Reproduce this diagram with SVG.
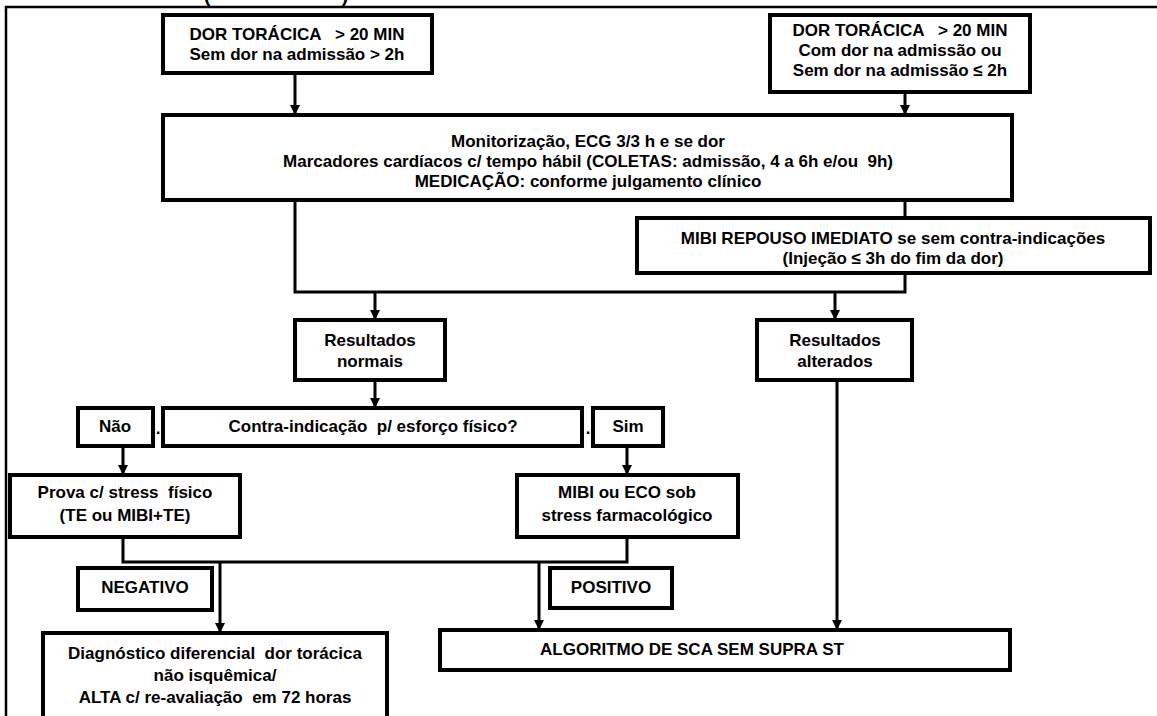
<svg xmlns="http://www.w3.org/2000/svg" width="1157" height="716" viewBox="0 0 1157 716">
<defs>
<style>
.box{fill:#fff;stroke:#000;stroke-width:4}
.t{font-family:"Liberation Sans",Arial,sans-serif;font-weight:bold;font-size:17px;fill:#000;text-anchor:middle;white-space:pre}
.ln{fill:none;stroke:#000;stroke-width:3}
.frame{fill:none;stroke:#000;stroke-width:2.5}
</style>
<marker id="ah" viewBox="0 0 10 10" refX="10" refY="5" markerWidth="10" markerHeight="10" markerUnits="userSpaceOnUse" orient="auto">
<path d="M0,0 L10,5 L0,10 Z" fill="#000"/>
</marker>
</defs>
<rect width="1157" height="716" fill="#fff"/>
<path class="frame" d="M6,716 V7 H1157"/>
<text class="t" x="207" y="2" style="font-size:20px">(</text>
<text class="t" x="345" y="2" style="font-size:20px">)</text>

<g id="connectors">
<line class="ln" x1="295" y1="73" x2="295" y2="115" marker-end="url(#ah)"/>
<line class="ln" x1="905" y1="92" x2="905" y2="115" marker-end="url(#ah)"/>
<polyline class="ln" points="295,200 295,292 905,292 905,273"/>
<line class="ln" x1="905" y1="200" x2="905" y2="218"/>
<line class="ln" x1="375" y1="292" x2="375" y2="320" marker-end="url(#ah)"/>
<line class="ln" x1="835" y1="292" x2="835" y2="320" marker-end="url(#ah)"/>
<line class="ln" x1="375" y1="380" x2="375" y2="408" marker-end="url(#ah)"/>
<line class="ln" x1="123" y1="447" x2="123" y2="475" marker-end="url(#ah)"/>
<line class="ln" x1="627" y1="447" x2="627" y2="475" marker-end="url(#ah)"/>
<polyline class="ln" points="123,537 123,562 627,562 627,537"/>
<line class="ln" x1="220" y1="562" x2="220" y2="633" marker-end="url(#ah)"/>
<line class="ln" x1="539" y1="562" x2="539" y2="630" marker-end="url(#ah)"/>
<line class="ln" x1="837" y1="380" x2="837" y2="630" marker-end="url(#ah)"/>
</g>

<g id="n1"><rect class="box" x="163" y="15" width="269" height="58"/>
<text class="t" x="297" y="40">DOR TORÁCICA   &gt; 20 MIN</text>
<text class="t" x="297" y="60">Sem dor na admissão &gt; 2h</text></g>

<g id="n2"><rect class="box" x="770" y="15" width="260" height="77"/>
<text class="t" x="900" y="36">DOR TORÁCICA   &gt; 20 MIN</text>
<text class="t" x="900" y="56">Com dor na admissão ou</text>
<text class="t" x="900" y="76">Sem dor na admissão ≤ 2h</text></g>

<g id="n3"><rect class="box" x="163" y="115" width="849" height="85"/>
<text class="t" x="588" y="147">Monitorização, ECG 3/3 h e se dor</text>
<text class="t" x="588" y="167">Marcadores cardíacos c/ tempo hábil (COLETAS: admissão, 4 a 6h e/ou  9h)</text>
<text class="t" x="588" y="187">MEDICAÇÃO: conforme julgamento clínico</text></g>

<g id="n4"><rect class="box" x="637" y="218" width="513" height="55"/>
<text class="t" x="893" y="244">MIBI REPOUSO IMEDIATO se sem contra-indicações</text>
<text class="t" x="893" y="264">(Injeção ≤ 3h do fim da dor)</text></g>

<g id="n5"><rect class="box" x="295" y="320" width="150" height="60"/>
<text class="t" x="370" y="346">Resultados</text>
<text class="t" x="370" y="367">normais</text></g>

<g id="n6"><rect class="box" x="757" y="320" width="155" height="60"/>
<text class="t" x="835" y="346">Resultados</text>
<text class="t" x="835" y="367">alterados</text></g>

<g id="n7"><rect class="box" x="78" y="408" width="75" height="38"/>
<text class="t" x="115" y="432">Não</text></g>
<text class="t" x="158" y="434">.</text>

<g id="n8"><rect class="box" x="163" y="408" width="419" height="38"/>
<text class="t" x="373" y="432">Contra-indicação  p/ esforço físico?</text></g>
<text class="t" x="588" y="434">.</text>

<g id="n9"><rect class="box" x="593" y="408" width="70" height="38"/>
<text class="t" x="628" y="432">Sim</text></g>

<g id="n10"><rect class="box" x="10" y="475" width="230" height="62"/>
<text class="t" x="125" y="498">Prova c/ stress  físico</text>
<text class="t" x="125" y="521">(TE ou MIBI+TE)</text></g>

<g id="n11"><rect class="box" x="517" y="475" width="221" height="62"/>
<text class="t" x="627" y="498">MIBI ou ECO sob</text>
<text class="t" x="627" y="521">stress farmacológico</text></g>

<g id="n12"><rect class="box" x="78" y="568" width="134" height="42"/>
<text class="t" x="145" y="593">NEGATIVO</text></g>

<g id="n13"><rect class="box" x="550" y="568" width="122" height="40"/>
<text class="t" x="611" y="593">POSITIVO</text></g>

<g id="n14"><rect class="box" x="43" y="633" width="344" height="90"/>
<text class="t" x="215" y="659">Diagnóstico diferencial  dor torácica</text>
<text class="t" x="215" y="681">não isquêmica/</text>
<text class="t" x="215" y="703">ALTA c/ re-avaliação  em 72 horas</text></g>

<g id="n15"><rect class="box" x="440" y="630" width="570" height="40"/>
<text class="t" x="692" y="655">ALGORITMO DE SCA SEM SUPRA ST</text></g>
</svg>
